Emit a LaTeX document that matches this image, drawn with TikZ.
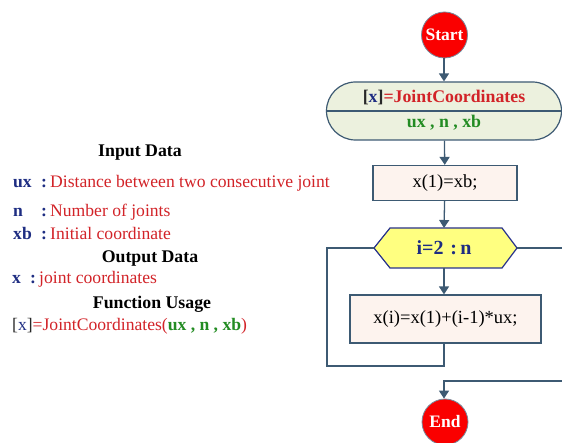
\documentclass[tikz,border=0pt]{standalone}
\usepackage{fontspec}
\setmainfont{Liberation Serif}
\usetikzlibrary{arrows.meta}
\definecolor{lineblue}{RGB}{61,90,115}
\definecolor{navy}{RGB}{30,45,130}
\definecolor{tred}{RGB}{210,35,40}
\definecolor{tgreen}{RGB}{35,140,35}
\definecolor{tdark}{RGB}{40,40,40}
\definecolor{termfill}{RGB}{236,241,222}
\definecolor{boxfill}{RGB}{253,243,238}
\definecolor{hexfill}{RGB}{255,255,128}
\definecolor{hexborder}{RGB}{40,50,140}
\definecolor{startred}{RGB}{250,0,0}
\tikzset{
  conn/.style={draw=lineblue, line width=1.3pt},
  arr/.style={conn, -{Triangle[length=8pt,width=10pt]}},
  termcircle/.style={circle, draw=lineblue!70, line width=0.8pt, fill=startred, minimum size=46pt, inner sep=0pt, text=white, font=\fontsize{17.5}{20}\selectfont\bfseries},
  procbox/.style={draw=lineblue, line width=1.2pt, fill=boxfill, inner sep=0pt, font=\fontsize{18.5}{22}\selectfont},
  funcbox/.style={draw=lineblue, line width=1.2pt, fill=termfill, rounded corners=29pt, minimum width=235pt, minimum height=58pt, inner sep=0pt},
  ltxt/.style={anchor=base west, inner sep=0pt},
  ctxt/.style={anchor=base, inner sep=0pt},
  hdr/.style={anchor=base, inner sep=0pt, font=\fontsize{17.8}{20}\selectfont\bfseries},
}
\begin{document}
\begin{tikzpicture}[x=1pt,y=-1pt,font=\fontsize{17.6}{20}\selectfont]
\useasboundingbox (0,0) rectangle (562,443);
\begin{scope}
\clip (0,0) rectangle (562,443);
% nodes
\node[termcircle] (start) at (444.5,35) {Start};
\node[funcbox] (func) at (444,111) {};
\draw[conn] (func.west) -- (func.east);
\node[ctxt, font=\fontsize{17.8}{20}\selectfont\bfseries] (ftitle) at (444,103) {\textcolor{tdark}{[}\textcolor{navy}{x}\textcolor{tdark}{]}\textcolor{tred}{=JointCoordinates}};
\node[ctxt, font=\fontsize{17.8}{20}\selectfont\bfseries, text=tgreen] (fargs) at (444,128) {ux , n , xb};
\node[procbox, minimum width=144pt, minimum height=35pt] (box1) at (445,183) {x(1)=xb;};
\coordinate (hexL) at (374,248);
\coordinate (hexR) at (517,248);
\coordinate (hexT) at (444,228);
\coordinate (hexB) at (444,268);
\draw[draw=hexborder, line width=1.2pt, fill=hexfill] (hexL) -- (390,228) -- (hexT) -- (502,228) -- (hexR) -- (502,268) -- (hexB) -- (390,268) -- cycle;
\node[font=\fontsize{20}{22}\selectfont\bfseries, text=navy] (hex) at (444,248) {i=2\,\,:\,n};
\node[procbox, minimum width=191pt, minimum height=48pt] (box2) at (445.5,319) {x(i)=x(1)+(i-1)*ux;};
\node[termcircle] (end) at (445,422) {End};
% connectors
\draw[arr] (start.south -| func.north) -- (func.north);
\draw[arr] (func) -- (box1);
\draw[arr] (box1) -- (hexT);
\draw[arr] (hexB) -- (hexB |- box2.north);
\coordinate (loopB) at (327,366);
\draw[conn] (box2.south -| hexB) |- (loopB) |- (hexL);
\coordinate (rtop) at (575,248);
\coordinate (rbot) at (575,381);
\draw[arr] (hexR) -- (rtop) -- (rbot) -| (end.north -| hexB);
\end{scope}
% left texts
\node[hdr] (inhdr) at (140,157) {Input Data};
\node[ltxt, font=\fontsize{17.6}{20}\selectfont\bfseries, text=navy] (l1) at (13,188) {ux};
\node[ltxt, font=\fontsize{17.6}{20}\selectfont\bfseries, text=navy] (c1) at (41,188) {:};
\node[ltxt, text=tred] (d1) at (50,188) {Distance between two consecutive joint};
\node[ltxt, font=\fontsize{17.6}{20}\selectfont\bfseries, text=navy] (l2) at (13,217) {n};
\node[ltxt, font=\fontsize{17.6}{20}\selectfont\bfseries, text=navy] (c2) at (41,217) {:};
\node[ltxt, text=tred] (d2) at (50,217) {Number of joints};
\node[ltxt, font=\fontsize{17.6}{20}\selectfont\bfseries, text=navy] (l3) at (13,240) {xb};
\node[ltxt, font=\fontsize{17.6}{20}\selectfont\bfseries, text=navy] (c3) at (41,240) {:};
\node[ltxt, text=tred] (d3) at (50,240) {Initial coordinate};
\node[hdr] (outhdr) at (150,263) {Output Data};
\node[ltxt, font=\fontsize{17.6}{20}\selectfont\bfseries, text=navy] (l4) at (12,284) {x};
\node[ltxt, font=\fontsize{17.6}{20}\selectfont\bfseries, text=navy] (c4) at (30,284) {:};
\node[ltxt, text=tred] (d4) at (39,284) {joint coordinates};
\node[hdr] (fuhdr) at (152,309) {Function Usage};
\node[ltxt] (usage) at (12,331) {\textcolor{tdark}{[}\textcolor{navy}{x}\textcolor{tdark}{]}\textcolor{tred}{=JointCoordinates(}\textcolor{tgreen}{\bfseries ux , n , xb}\textcolor{tred}{)}};
\end{tikzpicture}
\end{document}
